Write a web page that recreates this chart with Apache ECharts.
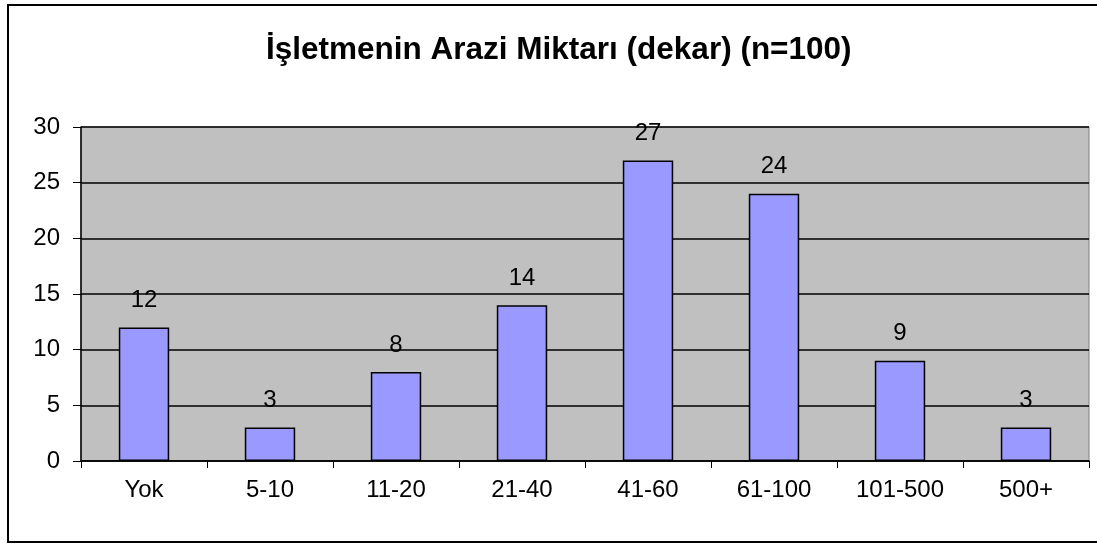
<!DOCTYPE html>
<html>
<head>
<meta charset="utf-8">
<script src="https://cdn.jsdelivr.net/npm/echarts@6/dist/echarts.min.js"></script>
<style>
  html, body { margin: 0; padding: 0; background: #fff; }
  #chart { width: 1097px; height: 546px; }
</style>
</head>
<body>
<div id="chart"></div>
<script>
var categories = ["Yok", "5-10", "11-20", "21-40", "41-60", "61-100", "101-500", "500+"];
var values = [12, 3, 8, 14, 27, 24, 9, 3];
var titleText = "İşletmenin Arazi Miktarı (dekar) (n=100)";

var chart = echarts.init(document.getElementById("chart"));

chart.setOption({
  animation: false,
  textStyle: { fontFamily: "Liberation Sans, Arial, sans-serif" },
  title: {
    text: titleText,
    left: 261,
    top: 29,
    textStyle: {
      fontFamily: "Liberation Sans, Arial, sans-serif",
      fontSize: 31.5,
      fontWeight: "bold",
      color: "#000"
    }
  },
  graphic: [
    {
      type: "rect",
      shape: { x: 8, y: 5, width: 1100, height: 537 },
      style: { fill: "none", stroke: "#000", lineWidth: 2 },
      silent: true
    }
  ],
  grid: {
    left: 81,
    right: 8,
    top: 127,
    bottom: 85,
    show: true,
    backgroundColor: "#C0C0C0",
    borderColor: "#808080",
    borderWidth: 1
  },
  xAxis: {
    type: "category",
    data: categories,
    axisLine: { lineStyle: { color: "#000", width: 1.5 } },
    axisTick: { show: true, length: 7, alignWithLabel: false, lineStyle: { color: "#000" } },
    axisLabel: { color: "#000", fontSize: 24, margin: 17 },
    splitLine: { show: false }
  },
  yAxis: {
    type: "value",
    min: 0,
    max: 30,
    interval: 5,
    axisLine: { show: true, lineStyle: { color: "#000", width: 1.5 } },
    axisTick: { show: true, length: 8, lineStyle: { color: "#000" } },
    axisLabel: { color: "#000", fontSize: 24, margin: 21 },
    splitLine: { show: true, lineStyle: { color: "#000", width: 1.5 } }
  },
  series: [
    {
      type: "bar",
      data: values,
      barWidth: "40%",
      itemStyle: {
        color: "#9999FF",
        borderColor: "#000",
        borderWidth: 1.5
      },
      label: {
        show: true,
        position: "top",
        distance: 15,
        color: "#000",
        fontSize: 24
      }
    }
  ]
});
</script>
</body>
</html>
